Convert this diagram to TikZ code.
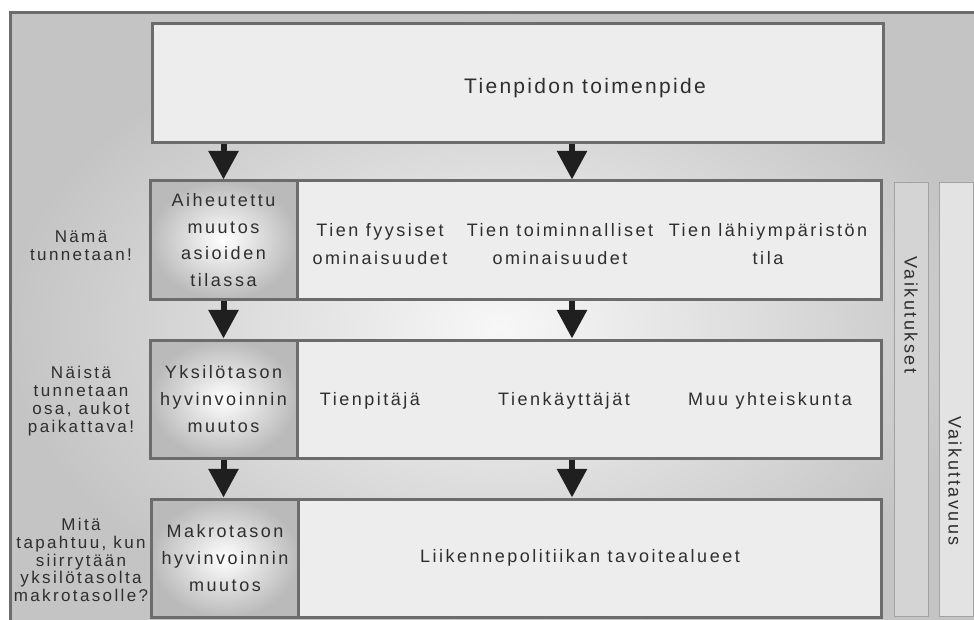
\documentclass[tikz,border=0pt]{standalone}
\usepackage{fontspec}
\setmainfont{Liberation Sans}[LetterSpace=14]
\newfontfamily\titlefont{Liberation Sans}[LetterSpace=11]
\usetikzlibrary{positioning, arrows.meta}

\definecolor{rim}{HTML}{6C6C6C}
\definecolor{ink}{HTML}{2E2E2E}
\definecolor{barrim}{HTML}{A2A2A2}

\begin{document}
\begin{tikzpicture}[x=0.75pt, y=-0.75pt,
    box/.style={rectangle, draw=rim, line width=2.25pt, fill=black!7,
                text=ink, font=\fontsize{13.5}{20}\selectfont, align=center, inner sep=0pt},
    levelbox/.style={box, inner color=white, outer color=black!27,
                     minimum width=110.25pt, minimum height=88.5pt},
    rowbox/.style={box, minimum width=438pt, minimum height=88.5pt},
    item/.style={text=ink, font=\fontsize{13.5}{21.5}\selectfont, align=center, inner sep=0pt},
    note/.style={text=ink, font=\fontsize{12.75}{13.4}\selectfont, align=center, inner sep=0pt},
    bar/.style={rectangle, draw=barrim, line width=0.75pt, minimum width=25.5pt,
                minimum height=326pt, inner sep=0pt},
    downarrow/.style={draw=black!88, line width=4.5pt,
                      -{Triangle[width=21.75pt, length=21.5pt]}}
]
    \useasboundingbox (0,0) rectangle (974,620);

    % Background frame
    \path[draw=rim, line width=2.25pt, inner color=black!3, outer color=black!23]
        (10,13) rectangle (990,640);

    % Top box
    \node[box, minimum width=548.25pt, minimum height=89.25pt] (toimenpide) at (517.5,83.5) {};
    \node[text=ink, font=\titlefont\fontsize{15.75}{18}\selectfont, inner sep=0pt]
        (otsikko) at (585,88) {Tienpidon toimenpide};

    % Row boxes
    \node[rowbox] (tila) at (589,240) {};
    \node[rowbox] (hyvinvointi) at (589,399) {};
    \node[rowbox] (politiikka) at (589,558) {};

    % Level boxes
    \node[levelbox] (aiheutettu) at (223.5,240) {Aiheutettu\\muutos\\asioiden\\tilassa};
    \node[levelbox] (yksilo) at (223.5,399) {Yksilötason\\hyvinvoinnin\\muutos};
    \node[levelbox] (makro) at (225,558) {Makrotason\\hyvinvoinnin\\muutos};

    % Row 1 items
    \node[item] (fyysiset) at (380,244) {Tien fyysiset\\ominaisuudet};
    \node[item] (toiminnalliset) at (560,244) {Tien toiminnalliset\\ominaisuudet};
    \node[item] (ymparisto) at (768,244) {Tien lähiympäristön\\tila};

    % Row 2 items
    \node[item] (tienpitaja) at (370,401) {Tienpitäjä};
    \node[item] (kayttajat) at (564,401) {Tienkäyttäjät};
    \node[item] (yhteiskunta) at (770,401) {Muu yhteiskunta};

    % Row 3 item
    \node[item] (tavoitteet) at (580,558) {Liikennepolitiikan tavoitealueet};

    % Notes on the left
    \node[note] (tunnetaan) at (81,246) {Nämä\\tunnetaan!};
    \node[note] (aukot) at (81,401) {Näistä\\tunnetaan\\osa, aukot\\paikattava!};
    \node[note] (siirtyma) at (81,560) {Mitä\\tapahtuu, kun\\siirrytään\\yksilötasolta\\makrotasolle?};

    % Bars on the right
    \node[bar, fill=black!17] (vaikutukset) at (911,399.5) {};
    \node[bar, fill=black!11] (vaikuttavuus) at (956,399.5) {};
    \node[item, rotate=-90] at (911,315) {Vaikutukset};
    \node[item, rotate=-90] at (955,481) {Vaikuttavuus};

    % Arrows
    \coordinate (oikea) at (572,0);
    \draw[downarrow] (toimenpide.south -| aiheutettu) -- (aiheutettu.north);
    \draw[downarrow] (toimenpide.south -| oikea) -- (tila.north -| oikea);
    \draw[downarrow] (aiheutettu.south) -- (yksilo.north);
    \draw[downarrow] (tila.south -| oikea) -- (hyvinvointi.north -| oikea);
    \draw[downarrow] (yksilo.south) -- (yksilo.south |- makro.north);
    \draw[downarrow] (hyvinvointi.south -| oikea) -- (politiikka.north -| oikea);

\end{tikzpicture}
\end{document}
